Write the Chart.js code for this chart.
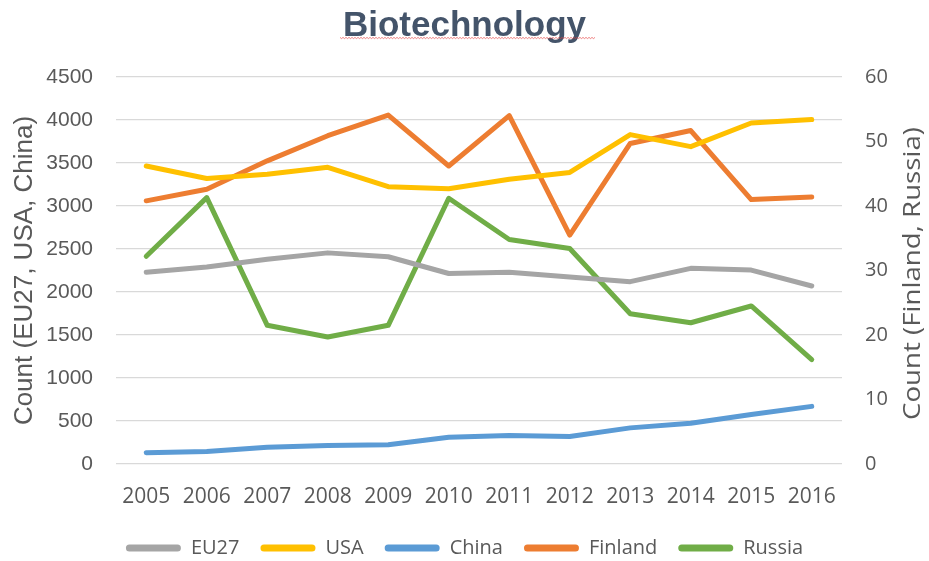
<!DOCTYPE html>
<html>
<head>
<meta charset="utf-8">
<script src="https://cdn.jsdelivr.net/npm/chart.js@4.4.1/dist/chart.umd.min.js"></script>
<style>
  html, body { margin: 0; padding: 0; background: #fff; }
  #wrap { width: 929px; height: 561px; position: relative; }
</style>
</head>
<body>
<div id="wrap"><canvas id="bioChart"></canvas></div>
<script>
const years = ['2005', '2006', '2007', '2008', '2009', '2010', '2011', '2012', '2013', '2014', '2015', '2016'];

// left axis series
const eu27 = [2230, 2290, 2380, 2455, 2410, 2215, 2230, 2175, 2120, 2275, 2255, 2070];
const usa = [3465, 3320, 3370, 3450, 3225, 3200, 3310, 3390, 3830, 3690, 3965, 4005];
const china = [130, 145, 195, 215, 225, 310, 330, 320, 420, 475, 575, 670];

// right axis series
const finland = [40.8, 42.6, 47.0, 50.9, 54.1, 46.2, 54.0, 35.5, 49.7, 51.7, 41.0, 41.4];
const russia = [32.2, 41.3, 21.5, 19.7, 21.5, 41.2, 34.8, 33.4, 23.3, 21.9, 24.5, 16.2];

const leftTicks = [0, 500, 1000, 1500, 2000, 2500, 3000, 3500, 4000, 4500];
const rightTicks = [0, 10, 20, 30, 40, 50, 60];

const textGrey = '#595959';
const arial = "'Liberation Sans', Arial, sans-serif";
const openSans = "'Open Sans', 'Noto Sans', sans-serif";

function series(label, data, color, axis) {
    return {
        label: label,
        data: data,
        yAxisID: axis,
        borderColor: color,
        backgroundColor: color,
        borderWidth: 5,
        borderCapStyle: 'round',
        borderJoinStyle: 'round',
        pointRadius: 0,
        pointHoverRadius: 0,
        tension: 0,
        fill: false
    };
}

// right axis title reads bottom-to-top, so draw it by hand
const rightTitlePlugin = {
    id: 'rightTitle',
    afterDraw(chart) {
        const ctx = chart.ctx;
        const text = 'Count (Finland, Russia)';
        ctx.save();
        ctx.font = '24px ' + openSans;
        const w = ctx.measureText(text).width;
        ctx.translate(913, 273.5);
        ctx.rotate(-Math.PI / 2);
        ctx.scale(293 / w, 1);
        ctx.fillStyle = textGrey;
        ctx.textAlign = 'center';
        ctx.textBaseline = 'middle';
        ctx.fillText(text, 0, 0);
        ctx.restore();
    }
};

// red spell-check squiggle under the title
const squigglePlugin = {
    id: 'squiggle',
    afterDraw(chart) {
        const ctx = chart.ctx;
        ctx.save();
        ctx.strokeStyle = 'rgba(230, 60, 60, 0.8)';
        ctx.lineWidth = 0.8;
        ctx.beginPath();
        let up = true;
        for (let x = 340; x <= 595; x += 1.5) {
            const y = up ? 37.4 : 38.6;
            if (x === 340) ctx.moveTo(x, y); else ctx.lineTo(x, y);
            up = !up;
        }
        ctx.stroke();
        ctx.restore();
    }
};

new Chart(document.getElementById('bioChart'), {
    type: 'line',
    data: {
        labels: years,
        datasets: [
            series('EU27', eu27, '#A5A5A5', 'yLeft'),
            series('USA', usa, '#FFC000', 'yLeft'),
            series('China', china, '#5B9BD5', 'yLeft'),
            series('Finland', finland, '#ED7D31', 'yRight'),
            series('Russia', russia, '#70AD47', 'yRight')
        ]
    },
    options: {
        responsive: true,
        maintainAspectRatio: false,
        animation: false,
        layout: {
            padding: { left: 0, right: 0, top: 0, bottom: -7 }
        },
        plugins: {
            title: {
                display: true,
                text: 'Biotechnology',
                color: '#44546A',
                font: { family: arial, size: 35, weight: 'bold' },
                padding: { top: 5, bottom: 30 }
            },
            legend: {
                position: 'bottom',
                labels: {
                    color: textGrey,
                    font: { family: openSans, size: 20 },
                    boxWidth: 55,
                    boxHeight: 7,
                    useBorderRadius: true,
                    borderRadius: 3.5,
                    padding: 21,
                    generateLabels(chart) {
                        const items = Chart.defaults.plugins.legend.labels.generateLabels(chart);
                        items.forEach(item => { item.lineWidth = 0; });
                        return items;
                    }
                }
            },
            tooltip: { enabled: false }
        },
        scales: {
            x: {
                offset: true,
                grid: { display: false, drawTicks: false },
                border: { display: false },
                ticks: {
                    color: textGrey,
                    font: { family: openSans, size: 21 },
                    padding: 20,
                    maxRotation: 0
                },
                afterFit(scale) { scale.height = 53; }
            },
            yLeft: {
                position: 'left',
                min: 0,
                max: 4500,
                afterBuildTicks(scale) { scale.ticks = leftTicks.map(v => ({ value: v })); },
                grid: { color: '#D9D9D9', lineWidth: 1.3, drawTicks: false },
                border: { display: false },
                ticks: {
                    color: textGrey,
                    font: { family: arial, size: 21 },
                    padding: 23,
                    callback: v => String(v)
                },
                title: {
                    display: true,
                    text: 'Count (EU27, USA, China)',
                    color: textGrey,
                    font: { family: arial, size: 26 },
                    padding: { top: 9, bottom: 0 }
                },
                afterFit(scale) { scale.width = 116; }
            },
            yRight: {
                position: 'right',
                min: 0,
                max: 60,
                afterBuildTicks(scale) { scale.ticks = rightTicks.map(v => ({ value: v })); },
                grid: { display: false, drawTicks: false },
                border: { display: false },
                ticks: {
                    color: textGrey,
                    font: { family: openSans, size: 20 },
                    padding: 23
                },
                afterFit(scale) { scale.width = 87; }
            }
        }
    },
    plugins: [rightTitlePlugin, squigglePlugin]
});
</script>
</body>
</html>
